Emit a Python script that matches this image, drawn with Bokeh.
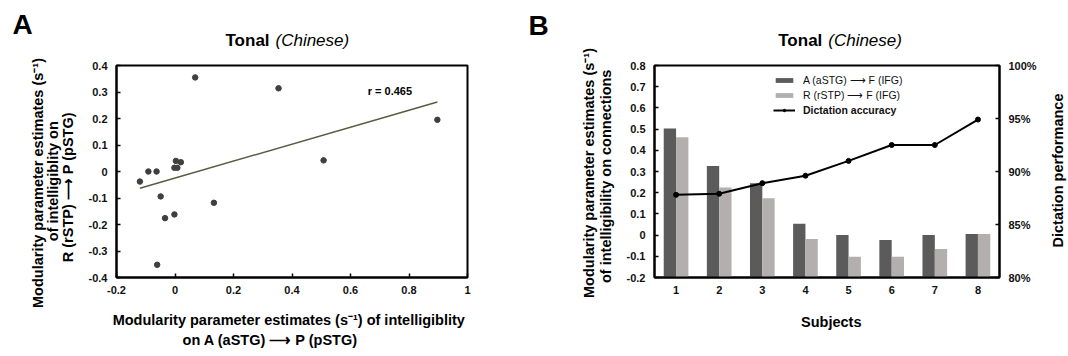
import math
from bokeh.plotting import figure
from bokeh.layouts import row
from bokeh.models import Label, Range1d, LinearAxis, FixedTicker, Legend, LegendItem, ColumnDataSource
from bokeh.transform import dodge
from bokeh.embed import file_html
from bokeh.resources import INLINE

FONT = "Liberation Sans"

# ---------------- Panel A data ----------------
a_x = [0.069, 0.354, 0.897, 0.508, -0.120, -0.091, -0.063, 0.003, -0.002, 0.008, 0.020, -0.049, -0.034, -0.002, 0.133, -0.061]
a_y = [0.355, 0.314, 0.195, 0.042, -0.038, 0.000, 0.000, 0.040, 0.014, 0.014, 0.035, -0.094, -0.176, -0.162, -0.118, -0.352]
fit_x = [-0.120, 0.897]
fit_y = [-0.063, 0.262]
a_xticks = [-0.2, 0, 0.2, 0.4, 0.6, 0.8, 1]
a_xtick_labels = ["-0.2", "0", "0.2", "0.4", "0.6", "0.8", "1"]
a_yticks = [-0.4, -0.3, -0.2, -0.1, 0, 0.1, 0.2, 0.3, 0.4]
a_ytick_labels = ["-0.4", "-0.3", "-0.2", "-0.1", "0", "0.1", "0.2", "0.3", "0.4"]
r_text = "r = 0.465"

# ---------------- Panel B data ----------------
subjects = [1, 2, 3, 4, 5, 6, 7, 8]
conn_a = [0.503, 0.326, 0.244, 0.053, 0.001, -0.023, 0.001, 0.005]
conn_r = [0.461, 0.225, 0.174, -0.018, -0.102, -0.102, -0.066, 0.005]
accuracy = [87.8, 87.9, 88.9, 89.6, 91.0, 92.5, 92.5, 94.9]
b_yticks = [-0.2, -0.1, 0, 0.1, 0.2, 0.3, 0.4, 0.5, 0.6, 0.7, 0.8]
b_ytick_labels = ["-0.2", "-0.1", "0", "0.1", "0.2", "0.3", "0.4", "0.5", "0.6", "0.7", "0.8"]
pct_ticks = [80, 85, 90, 95, 100]
pct_labels = ["80%", "85%", "90%", "95%", "100%"]
legend_a = "A (aSTG) \u27f6 F (IFG)"
legend_r = "R (rSTP) \u27f6 F (IFG)"
legend_acc = "Dictation accuracy"

DARK = "#5b5b5b"
LIGHT = "#b3afaf"


def lab(p, side, rx, ry, text, size, style="bold", align="left", baseline="middle", angle=0.0, color="#000000"):
    # anchored at the frame's bottom-left corner, shifted by pixel offsets
    p.add_layout(Label(x=p.x_range.start, y=p.y_range.start, x_units="data", y_units="data",
                       x_offset=rx, y_offset=ry, text=text,
                       text_font=FONT, text_font_size=f"{size}px", text_font_style=style,
                       text_align=align, text_baseline=baseline, angle=angle, text_color=color), side)


def style_axis(ax, ticks, labels, tick_in=4):
    ax.ticker = FixedTicker(ticks=ticks)
    ax.major_label_overrides = {t: l for t, l in zip(ticks, labels)}
    ax.major_tick_in = tick_in
    ax.major_tick_out = 0
    ax.minor_tick_in = 0
    ax.minor_tick_out = 0
    ax.axis_line_color = "black"
    ax.axis_line_width = 2
    ax.major_tick_line_color = "black"
    ax.major_tick_line_width = 1.5
    ax.major_label_text_font = FONT
    ax.major_label_text_font_style = "bold"
    ax.major_label_text_font_size = "11px"
    ax.major_label_text_color = "#111111"
    ax.major_label_standoff = 8


# ================= Panel A =================
pa = figure(frame_width=351, frame_height=212, min_border_left=116, min_border_right=57,
            min_border_top=65, min_border_bottom=71, x_range=Range1d(-0.2, 1), y_range=Range1d(-0.4, 0.4),
            output_backend="svg", toolbar_location=None, title=None)
pa.grid.visible = False
pa.outline_line_color = "black"
pa.outline_line_width = 2
pa.outline_line_alpha = 1
style_axis(pa.xaxis[0], a_xticks, a_xtick_labels)
style_axis(pa.yaxis[0], a_yticks, a_ytick_labels)
pa.yaxis[0].major_label_standoff = 9

pa.line(fit_x, fit_y, line_color="#5a5a40", line_width=1.5)
pa.scatter(a_x, a_y, size=5.5, fill_color="#3f3f3f", line_color="#3f3f3f")

pa.add_layout(Label(x=0.659, y=0.302, text=r_text, text_font=FONT, text_font_size="11px",
                    text_font_style="bold", text_baseline="middle", text_color="#000000"))
lab(pa, "above", 109, 237, "Tonal", 17)
lab(pa, "above", 159, 237, "(Chinese)", 17, style="italic")
lab(pa, "below", 172.3, -42, "Modularity parameter estimates (s\u207b\u00b9) of intelligiblity", 14.5, align="center")
lab(pa, "below", 154, -62, "on A (aSTG) \u27f6 P (pSTG)", 14.5, align="center")
lab(pa, "left", -48.4, 90.3, "R (rSTP) \u27f6 P (pSTG)", 14.5, align="center", angle=math.pi / 2)
lab(pa, "left", -64, 96.3, "of intelligiblity on", 14.5, align="center", angle=math.pi / 2)
lab(pa, "left", -79, 94.5, "Modularity parameter estimates (s\u207b\u00b9)", 14.5, align="center", angle=math.pi / 2)
lab(pa, "left", -94, 253, "A", 28, align="center")

# ================= Panel B =================
pb = figure(frame_width=345, frame_height=212, min_border_left=130, min_border_right=69,
            min_border_top=65, min_border_bottom=71, x_range=Range1d(0.5, 8.5), y_range=Range1d(-0.2, 0.8),
            output_backend="svg", toolbar_location=None, title=None)
pb.extra_y_ranges = {"pct": Range1d(80, 100)}
pb.grid.visible = False
pb.outline_line_color = "black"
pb.outline_line_width = 2
pb.outline_line_alpha = 1
style_axis(pb.xaxis[0], subjects, [str(s) for s in subjects], tick_in=0)
style_axis(pb.yaxis[0], b_yticks, b_ytick_labels)
pb.yaxis[0].major_label_standoff = 9
rax = LinearAxis(y_range_name="pct")
style_axis(rax, pct_ticks, pct_labels)
rax.major_label_standoff = 9
pb.add_layout(rax, "right")

src = ColumnDataSource(dict(s=subjects, a=conn_a, r=conn_r, acc=accuracy))
ra = pb.vbar(x=dodge("s", -0.143), top="a", bottom=-0.2, width=0.286, source=src,
             fill_color=DARK, line_color=None)
rr = pb.vbar(x=dodge("s", 0.143), top="r", bottom=-0.2, width=0.286, source=src,
             fill_color=LIGHT, line_color=None)
rl = pb.line("s", "acc", source=src, y_range_name="pct", line_color="black", line_width=2)
rs = pb.scatter("s", "acc", source=src, y_range_name="pct", size=5, fill_color="black", line_color="black")

leg1 = Legend(items=[LegendItem(label=legend_a, renderers=[ra]), LegendItem(label=legend_r, renderers=[rr])],
              location=(119, 176), glyph_width=22, glyph_height=6, label_height=12, label_standoff=8,
              spacing=3, padding=0, margin=0, border_line_color=None, background_fill_alpha=0,
              label_text_font=FONT, label_text_font_size="10.5px", label_text_font_style="normal",
              label_text_color="#111111")
leg2 = Legend(items=[LegendItem(label=legend_acc, renderers=[rl, rs])],
              location=(119, 161), glyph_width=22, glyph_height=6, label_height=12, label_standoff=8,
              spacing=3, padding=0, margin=0, border_line_color=None, background_fill_alpha=0,
              label_text_font=FONT, label_text_font_size="10.5px", label_text_font_style="bold",
              label_text_color="#111111")
pb.add_layout(leg1, "center")
pb.add_layout(leg2, "center")

lab(pb, "above", 123.75, 237, "Tonal", 17)
lab(pb, "above", 173.75, 237, "(Chinese)", 17, style="italic")
lab(pb, "below", 176.8, -44, "Subjects", 14.5, align="center")
lab(pb, "left", -49, 101.2, "of intelligibility on connections", 14.5, align="center", angle=math.pi / 2)
lab(pb, "left", -65.5, 104.5, "Modularity parameter estimates (s\u207b\u00b9)", 14.5, align="center", angle=math.pi / 2)
lab(pb, "left", -116, 252, "B", 28, align="center")
lab(pb, "right", 403.5, 107, "Dictation performance", 14.5, align="center", angle=math.pi / 2)

layout = row(pa, pb)
open("out.html", "w").write(file_html(layout, INLINE))
